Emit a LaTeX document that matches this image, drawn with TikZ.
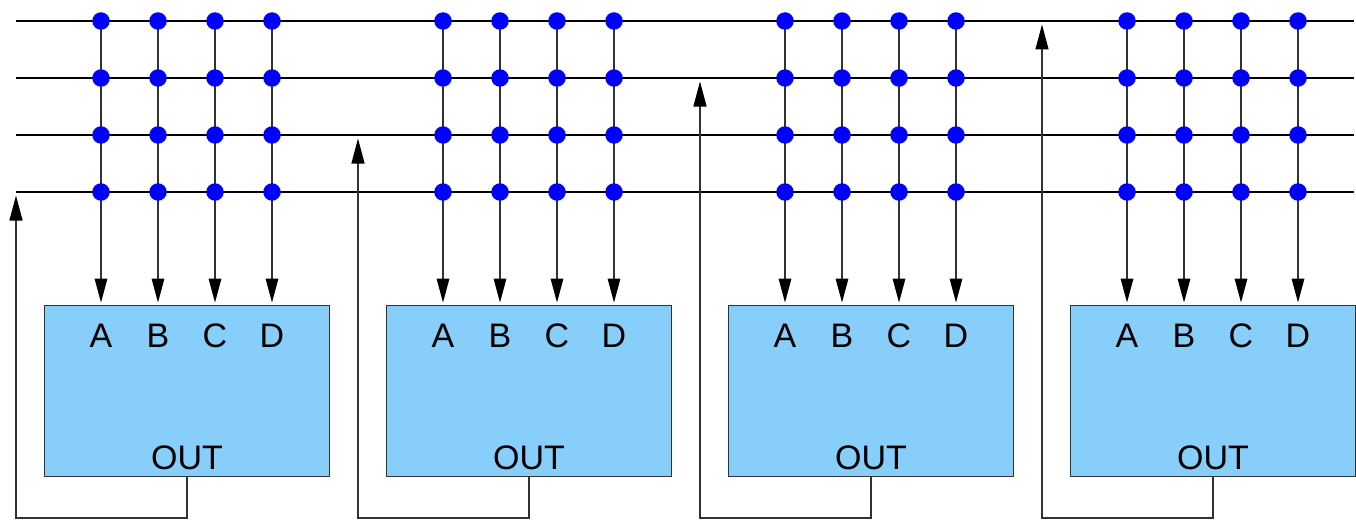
\documentclass[tikz,border=0pt]{standalone}
\usepackage{fontspec}
\setmainfont{Liberation Sans}
\usetikzlibrary{arrows.meta,calc}
\definecolor{boxfill}{RGB}{135,206,250}
\definecolor{dotblue}{RGB}{0,0,255}
\definecolor{edge}{RGB}{50,50,50}
\tikzset{
  bus/.style={draw=black,line width=1.8pt},
  vline/.style={draw=edge,line width=1.6pt,-{Triangle[length=24pt,width=12.5pt,color=black]},shorten >=2.5pt},
  retline/.style={draw=edge,line width=1.3pt,-{Triangle[length=25pt,width=13pt,color=black]}},
  dot/.style={circle,fill=dotblue,draw=none,minimum size=17.5pt,inner sep=0pt},
  block/.style={rectangle,draw=edge,line width=1.3pt,fill=boxfill,minimum width=285pt,minimum height=170.5pt,inner sep=0pt},
  lbl/.style={font=\fontsize{34}{34}\selectfont,inner sep=0pt,anchor=center}
}
\begin{document}
\begin{tikzpicture}[x=1pt,y=-1pt]
\useasboundingbox (0,0) rectangle (1356,519);
% bus lines
\foreach \r/\y in {1/21,2/78,3/135,4/192}{
  \coordinate (busL\r) at (16,\y);
  \coordinate (busR\r) at (1354,\y);
  \draw[bus] (busL\r) -- (busR\r);
}
\foreach \k in {0,1,2,3}{
  \pgfmathsetmacro{\cx}{187+342*\k}
  \node[block] (b\k) at (\cx,391) {};
  % labels
  \foreach \c/\dx/\t in {1/-86/A,2/-29/B,3/28/C,4/85/D}{
    \node[lbl] (t\k-\c) at (\cx+\dx,336) {\t};
  }
  \node[lbl] (out\k) at (\cx,458) {OUT};
  % column lines and dots
  \foreach \c/\dx in {1/-86,2/-29,3/28,4/85}{
    \foreach \r/\y in {1/21,2/78,3/135,4/192}{
      \coordinate (p\k-\c-\r) at (\cx+\dx,\y);
    }
    \draw[vline] (p\k-\c-1) -- (p\k-\c-1 |- b\k.north);
    \foreach \r in {1,2,3,4}{
      \node[dot] (d\k-\c-\r) at (p\k-\c-\r) {};
    }
  }
}
% feedback lines
\foreach \k/\r in {0/4,1/3,2/2,3/1}{
  \pgfmathsetmacro{\lx}{16+342*\k}
  \pgfmathsetmacro{\ox}{187+342*\k}
  \coordinate (o\k) at (\ox,391);
  \coordinate (c\k) at (\lx,518);
  \coordinate (tip\k) at ($(\lx,0)+(busL\r)-(16,0)+(0,3.5)$);
  \draw[retline] (o\k |- b\k.south) -- (o\k |- c\k) -- (c\k) -- (tip\k);
}
\end{tikzpicture}
\end{document}
